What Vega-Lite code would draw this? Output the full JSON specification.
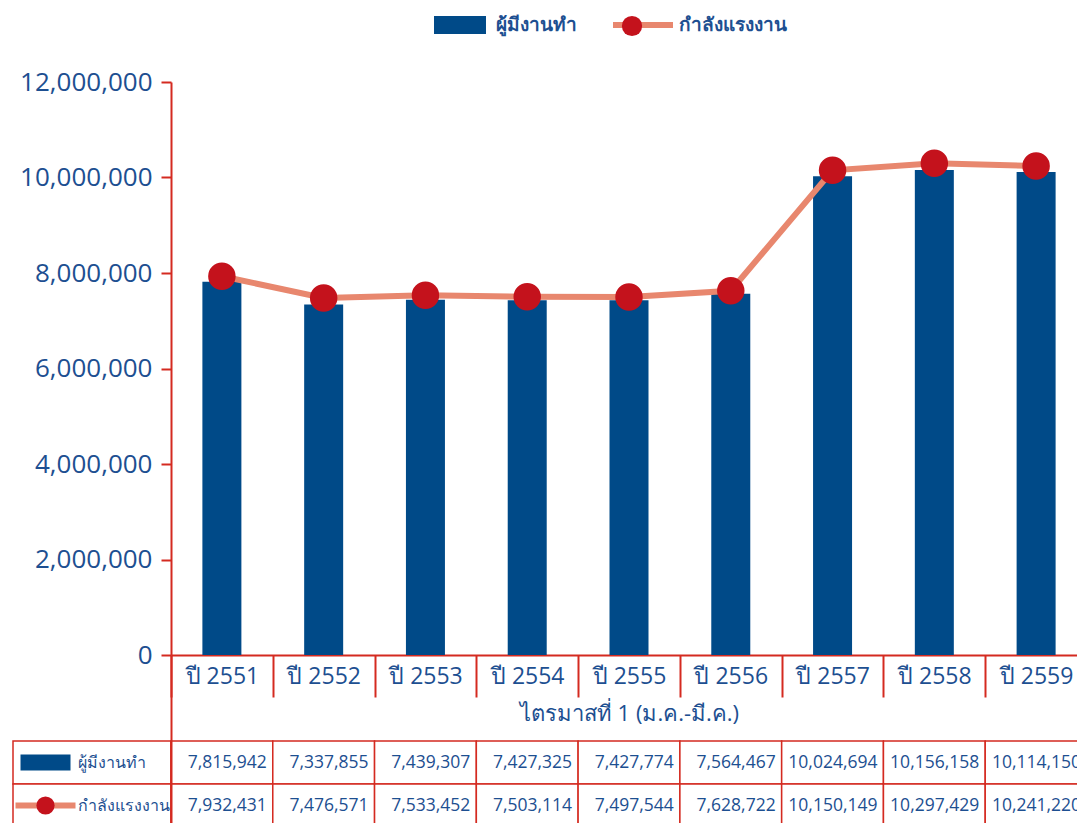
{
  "$schema": "https://vega.github.io/schema/vega-lite/v6.json",
  "padding": {"left": 12, "top": 10, "right": 0, "bottom": 0},
  "background": "white",
  "datasets": {
    "main": [
      {"year": "ปี 2551", "employed": 7815942, "labor": 7932431},
      {"year": "ปี 2552", "employed": 7337855, "labor": 7476571},
      {"year": "ปี 2553", "employed": 7439307, "labor": 7533452},
      {"year": "ปี 2554", "employed": 7427325, "labor": 7503114},
      {"year": "ปี 2555", "employed": 7427774, "labor": 7497544},
      {"year": "ปี 2556", "employed": 7564467, "labor": 7628722},
      {"year": "ปี 2557", "employed": 10024694, "labor": 10150149},
      {"year": "ปี 2558", "employed": 10156158, "labor": 10297429},
      {"year": "ปี 2559", "employed": 10114150, "labor": 10241220}
    ],
    "rows": [
      {"row": "employed", "label": "ผู้มีงานทำ"},
      {"row": "labor", "label": "กำลังแรงงาน"}
    ]
  },
  "columns": 2,
  "spacing": {"row": 0, "column": 0},
  "bounds": "flush",
  "concat": [
    {
      "width": 158,
      "height": 573,
      "data": {"values": []},
      "mark": {"type": "point"},
      "encoding": {}
    },
    {
      "width": 916,
      "height": 573,
      "data": {"name": "main"},
      "encoding": {
        "x": {
          "field": "year", "type": "nominal", "sort": null,
          "scale": {"paddingInner": 0, "paddingOuter": 0},
          "title": "ไตรมาสที่ 1 (ม.ค.-มี.ค.)",
          "axis": {
            "labelAngle": 0, "tickBand": "extent", "tickSize": 42, "tickColor": "#d42a20", "tickWidth": 2,
            "domainColor": "#d42a20", "domainWidth": 2, "labelPadding": -32, "labelFontSize": 23,
            "labelColor": "#1d4f91", "titleFontSize": 22, "titleColor": "#1d4f91", "titleFontWeight": "normal",
            "titlePadding": 5, "labelBaseline": "top"
          }
        }
      },
      "layer": [
        {
          "mark": {"type": "bar", "size": 39},
          "encoding": {
            "y": {
              "field": "employed", "type": "quantitative",
              "scale": {"domain": [0, 12000000], "nice": false},
              "title": null,
              "axis": {
                "values": [0, 2000000, 4000000, 6000000, 8000000, 10000000, 12000000],
                "format": ",d", "grid": false, "tickSize": 10, "tickColor": "#d42a20", "tickWidth": 2,
                "domainColor": "#d42a20", "domainWidth": 2, "labelFontSize": 26, "labelColor": "#1d4f91",
                "labelPadding": 9
              }
            },
            "color": {
              "datum": "ผู้มีงานทำ", "type": "nominal",
              "scale": {"domain": ["ผู้มีงานทำ", "กำลังแรงงาน"], "range": ["#004a88", "#e8876e"]},
              "legend": {
                "orient": "none", "legendX": 432, "legendY": -72, "direction": "horizontal", "title": null,
                "padding": 0, "labelFontSize": 19, "labelFontWeight": "bold", "labelColor": "#1d4f91",
                "symbolSize": 900, "columnPadding": 36, "labelOffset": 21, "zindex": 0,
                "encode": {
                  "symbols": {
                    "update": {
                      "shape": {"signal": "datum.value === 'ผู้มีงานทำ' ? 'M-1.733,-0.6H1.733V0.6H-1.733Z' : 'M-2,-0.2H2V0.2H-2Z'"},
                      "size": {"value": 900},
                      "fill": {"scale": "color", "field": "value"},
                      "strokeWidth": {"value": 0},
                      "opacity": {"value": 1},
                      "fillOpacity": {"value": 1}
                    }
                  }
                }
              }
            }
          }
        },
        {
          "mark": {"type": "line", "strokeWidth": 6},
          "encoding": {
            "y": {"field": "labor", "type": "quantitative"},
            "color": {"datum": "กำลังแรงงาน", "type": "nominal"}
          }
        },
        {
          "mark": {"type": "point", "filled": true, "size": 755, "opacity": 1, "color": "#c4121c"},
          "encoding": {
            "y": {"field": "labor", "type": "quantitative"},
            "shape": {
              "datum": "กำลังแรงงาน", "type": "nominal",
              "scale": {"domain": ["กำลังแรงงาน"], "range": ["circle"]},
              "legend": {
                "orient": "none", "legendX": 608, "legendY": -67, "direction": "horizontal", "title": null,
                "padding": 0, "labelFontSize": 19, "labelExpr": "''", "labelOpacity": 0,
                "symbolSize": 410, "labelOffset": 2, "zindex": 1,
                "encode": {
                  "symbols": {
                    "update": {
                      "fill": {"value": "#c4121c"},
                      "strokeWidth": {"value": 0},
                      "size": {"value": 410},
                      "opacity": {"value": 1},
                      "fillOpacity": {"value": 1}
                    }
                  }
                }
              }
            }
          }
        }
      ]
    },
    {
      "width": 158,
      "height": 172,
      "data": {"name": "rows"},
      "encoding": {
        "y": {
          "field": "row", "type": "nominal", "sort": null,
          "scale": {"domain": ["employed", "labor"], "paddingInner": 0, "paddingOuter": 1, "align": 1},
          "axis": null
        }
      },
      "layer": [
        {"mark": {"type": "rect", "fill": "white", "stroke": "#d42a20", "strokeWidth": 1.5}},
        {
          "transform": [{"filter": "datum.row === 'employed'"}],
          "mark": {"type": "point", "shape": "M-1,-0.32H1V0.32H-1Z", "filled": true, "size": 2500, "color": "#004a88", "opacity": 1},
          "encoding": {"x": {"datum": "symbol", "type": "nominal", "scale": {"type": "band", "domain": ["symbol", "label"], "paddingInner": 0, "paddingOuter": 0.215, "align": 0}, "axis": null}}
        },
        {
          "transform": [{"filter": "datum.row === 'labor'"}],
          "mark": {"type": "point", "shape": "M-1,-0.1H1V0.1H-1Z", "filled": true, "size": 3600, "color": "#e8876e", "opacity": 1},
          "encoding": {"x": {"datum": "symbol", "type": "nominal", "scale": {"type": "band", "domain": ["symbol", "label"], "paddingInner": 0, "paddingOuter": 0.215, "align": 0}}}
        },
        {
          "transform": [{"filter": "datum.row === 'labor'"}],
          "mark": {"type": "point", "shape": "circle", "filled": true, "size": 330, "color": "#c4121c", "opacity": 1},
          "encoding": {"x": {"datum": "symbol", "type": "nominal", "scale": {"type": "band", "domain": ["symbol", "label"], "paddingInner": 0, "paddingOuter": 0.215, "align": 0}}}
        },
        {
          "mark": {"type": "text", "align": "left", "fontSize": 16, "color": "#1d4f91"},
          "encoding": {
            "x": {"datum": "label", "type": "nominal", "bandPosition": 0, "scale": {"type": "band", "domain": ["symbol", "label"], "paddingInner": 0, "paddingOuter": 0.215, "align": 0}},
            "text": {"field": "label"}
          }
        }
      ]
    },
    {
      "width": 916,
      "height": 172,
      "data": {"name": "main"},
      "transform": [{"fold": ["employed", "labor"], "as": ["row", "value"]}],
      "encoding": {
        "x": {"field": "year", "type": "nominal", "sort": null, "scale": {"paddingInner": 0, "paddingOuter": 0}, "axis": null},
        "y": {
          "field": "row", "type": "nominal", "sort": null,
          "scale": {"domain": ["employed", "labor"], "paddingInner": 0, "paddingOuter": 1, "align": 1},
          "axis": {"domainColor": "#d42a20", "domainWidth": 2, "ticks": false, "labels": false, "title": null, "grid": false}
        }
      },
      "layer": [
        {"mark": {"type": "rect", "fill": "white", "stroke": "#d42a20", "strokeWidth": 1.5}},
        {
          "mark": {"type": "text", "align": "right", "dx": -6, "fontSize": 17.5, "color": "#1d4f91"},
          "encoding": {
            "x": {"field": "year", "type": "nominal", "sort": null, "bandPosition": 1},
            "text": {"field": "value", "type": "quantitative", "format": ",d"}
          }
        }
      ]
    }
  ],
  "config": {
    "view": {"stroke": null},
    "font": "Open Sans",
    "axis": {"labelFont": "Open Sans", "titleFont": "Open Sans"},
    "legend": {"labelFont": "Open Sans"}
  }
}
